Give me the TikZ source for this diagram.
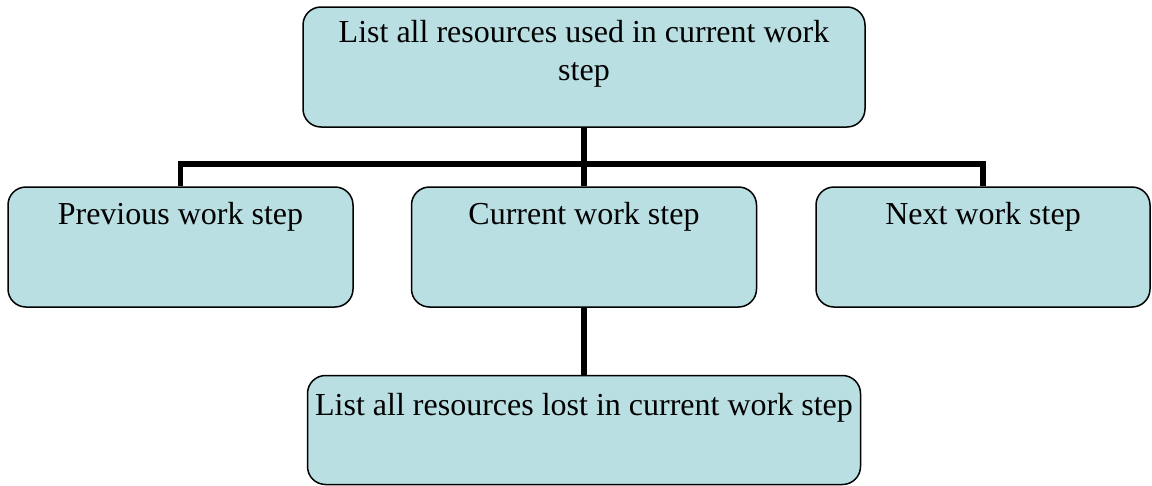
\documentclass[tikz,border=0pt]{standalone}
\usepackage{fontspec}
\setmainfont{Liberation Serif}
\definecolor{boxfill}{RGB}{185,223,227}
\tikzset{
    stepbox/.style={draw=black, line width=1.5pt, fill=boxfill, rounded corners=18pt, inner sep=0pt},
    steptext/.style={anchor=north, inner sep=0pt, align=center, font=\fontsize{32}{38}\selectfont},
    link/.style={black, line width=5.5pt}
}
\begin{document}
\begin{tikzpicture}[x=1pt, y=-1pt]
                \useasboundingbox (0,0) rectangle (1152,485);
                \node[stepbox, minimum width=562pt, minimum height=120pt] (used) at (584,67) {};
                \node[steptext] (usedtxt) at ([yshift=-14pt]used.north) {List all resources used in current work\\step};
                \foreach \name/\x/\w/\txt in {prev/180.5/345/Previous work step, cur/584/345/Current work step, next/983/334/Next work step} {
                        \node[stepbox, minimum width=\w pt, minimum height=120pt] (\name) at (\x,247) {};
                        \node[steptext] (\name txt) at ([yshift=-16pt]\name.north) {\txt};
                    }
                \node[stepbox, minimum width=553pt, minimum height=109pt] (lost) at (584,430) {};
                \node[steptext] (losttxt) at ([yshift=-18pt]lost.north) {List all resources lost in current work step};
                \draw[link] (used.south) -- ++(0,36) coordinate (fork);
                \foreach \name in {prev, cur, next} {
                        \draw[link] (fork) -| (\name.north);
                    }
                \draw[link] (cur.south) -- (lost.north);
        \end{tikzpicture}
\end{document}
